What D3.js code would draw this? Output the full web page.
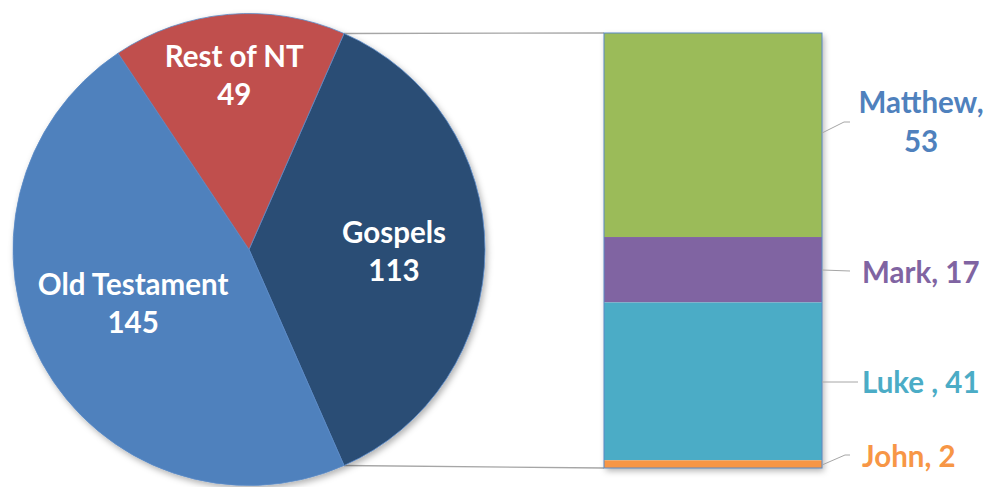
<!DOCTYPE html>
<html>
<head>
<meta charset="utf-8">
<script src="https://cdn.jsdelivr.net/npm/d3@7"></script>
<style>
  html, body { margin: 0; padding: 0; background: #fff; }
  svg { display: block; font-family: "Lato", "Open Sans", sans-serif; font-weight: 700; }
</style>
</head>
<body>
<svg id="chart" width="999" height="487"></svg>
<script>
// pie data
const pieNames = ['Gospels', 'Old Testament', 'Rest of NT'];
const pieValues = [113, 145, 49];
const pieColors = ['#2c4d75', '#4f81bd', '#c0504d'];

// breakdown of the gospels
const barNames = ['Matthew', 'Mark', 'Luke ', 'John'];
const barValues = [53, 17, 41, 2];
const barColors = ['#9bbb59', '#8064a2', '#4bacc6', '#f79646'];
const barLabelColors = ['#4f81bd', '#8064a2', '#4bacc6', '#f79646'];

// layout
const W = 999, H = 487;
const cx = 249, cy = 249.5, R = 236;
const bar = { x0: 604, x1: 822, y0: 33, y1: 468 };
const labelRadii = [145, 131, 170];
const labelShift = [[0, 0], [-1, -10], [0, -6]];
const FS = 29.5;

const svg = d3.select('#chart');

const defs = svg.append('defs');
const f = defs.append('filter').attr('id', 'shadow')
  .attr('x', '-10%').attr('y', '-10%').attr('width', '120%').attr('height', '120%');
f.append('feDropShadow').attr('dx', 2).attr('dy', 3).attr('stdDeviation', 3)
  .attr('flood-color', '#000').attr('flood-opacity', 0.3);

// start gospels so it's centred on the right side
const total = d3.sum(pieValues);
const gospelAngle = pieValues[0] / total * 2 * Math.PI;
const startA = Math.PI / 2 - gospelAngle / 2;

const pie = d3.pie().sort(null).value(d => d)
  .startAngle(startA).endAngle(startA + 2 * Math.PI);
const arcs = pie(pieValues);
const arc = d3.arc().innerRadius(0).outerRadius(R);

const pt = (a, r) => [cx + r * Math.sin(a), cy - r * Math.cos(a)];

// connector lines (drawn first, behind)
const g0 = arcs[0];
const p1 = pt(g0.startAngle, R), p2 = pt(g0.endAngle, R);
svg.append('line').attr('x1', p1[0]).attr('y1', p1[1]).attr('x2', bar.x0).attr('y2', bar.y0)
  .attr('stroke', '#a6a6a6').attr('stroke-width', 1.3);
svg.append('line').attr('x1', p2[0]).attr('y1', p2[1]).attr('x2', bar.x0).attr('y2', bar.y1)
  .attr('stroke', '#a6a6a6').attr('stroke-width', 1.3);

const pieG = svg.append('g').attr('transform', `translate(${cx},${cy})`);
pieG.append('g').attr('filter', 'url(#shadow)')
  .selectAll('path').data(arcs).join('path')
  .attr('d', arc)
  .attr('fill', (d, i) => pieColors[i])
  .attr('stroke', '#5b8ac6').attr('stroke-width', 0.8);

pieG.selectAll('text.pl').data(arcs).join('text')
  .attr('class', 'pl')
  .attr('text-anchor', 'middle')
  .attr('fill', '#fff')
  .attr('font-size', FS)
  .each(function (d, i) {
    const a = (d.startAngle + d.endAngle) / 2;
    const x = labelRadii[i] * Math.sin(a) + labelShift[i][0];
    const y = -labelRadii[i] * Math.cos(a) + labelShift[i][1];
    const t = d3.select(this);
    t.append('tspan').attr('x', x).attr('y', y - 7).text(pieNames[i]);
    t.append('tspan').attr('x', x).attr('y', y + 31).text(pieValues[i]);
  });

// stacked bar
const y = d3.scaleLinear().domain([0, d3.sum(barValues)]).range([bar.y0, bar.y1]);
const cum = d3.cumsum(barValues);
const segs = barValues.map((v, i) => ({ name: barNames[i], v, a: cum[i] - v, b: cum[i], i }));

const barG = svg.append('g');
barG.append('rect').attr('x', bar.x0).attr('y', bar.y0)
  .attr('width', bar.x1 - bar.x0).attr('height', bar.y1 - bar.y0)
  .attr('fill', '#fff').attr('filter', 'url(#shadow)');
barG.selectAll('rect.seg').data(segs).join('rect')
  .attr('class', 'seg')
  .attr('x', bar.x0).attr('width', bar.x1 - bar.x0)
  .attr('y', d => y(d.a)).attr('height', d => y(d.b) - y(d.a))
  .attr('fill', d => barColors[d.i]);
barG.append('rect').attr('x', bar.x0).attr('y', bar.y0)
  .attr('width', bar.x1 - bar.x0).attr('height', bar.y1 - bar.y0)
  .attr('fill', 'none').attr('stroke', '#5b8ac6').attr('stroke-width', 1);

// bar labels with leader lines
const leaders = [
  [[bar.x1, 133], [844, 122], [850, 122]],
  [[bar.x1, 270], [850, 271]],
  [[bar.x1, 382], [858, 382]],
  [[bar.x1, 465], [845, 455], [850, 455]]
];
svg.selectAll('path.leader').data(leaders).join('path')
  .attr('class', 'leader')
  .attr('d', d => d3.line()(d))
  .attr('fill', 'none').attr('stroke', '#a6a6a6').attr('stroke-width', 1);

const lab = svg.append('g').attr('font-size', FS);
// Matthew is wrapped on two lines, centred
const mt = lab.append('text').attr('text-anchor', 'middle').attr('fill', barLabelColors[0]);
mt.append('tspan').attr('x', 921).attr('y', 113).text(barNames[0] + ',');
mt.append('tspan').attr('x', 921).attr('y', 152).text(barValues[0]);
const ys = [null, 283, 393, 467];
[1, 2, 3].forEach(i => {
  lab.append('text').attr('x', 862).attr('y', ys[i])
    .attr('fill', barLabelColors[i])
    .text(`${barNames[i]}, ${barValues[i]}`);
});
</script>
</body>
</html>
